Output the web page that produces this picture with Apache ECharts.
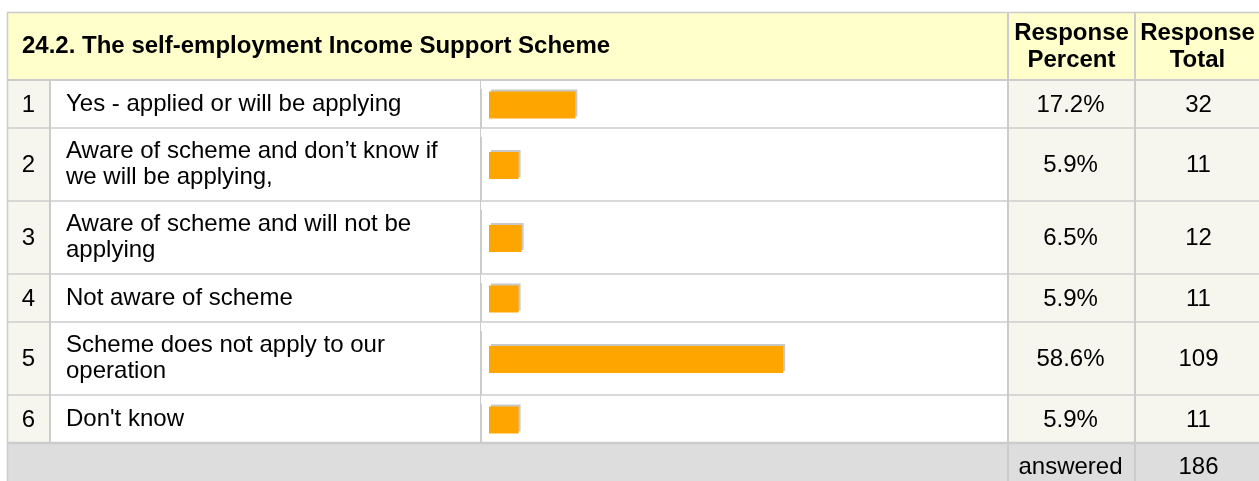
<!DOCTYPE html>
<html>
<head>
<meta charset="utf-8">
<script src="https://cdn.jsdelivr.net/npm/echarts@6/dist/echarts.min.js"></script>
<style>
html,body{margin:0;padding:0;background:#fff;}
#chart{width:1259px;height:481px;}
</style>
</head>
<body>
<div id="chart"></div>
<script>
// ---- data ----
const title = "24.2. The self-employment Income Support Scheme";
const colHeaders = ["Response\nPercent", "Response\nTotal"];
const rowNumbers = ["1", "2", "3", "4", "5", "6"];
const answers = [
  "Yes - applied or will be applying",
  "Aware of scheme and don\u2019t know if\nwe will be applying,",
  "Aware of scheme and will not be\napplying",
  "Not aware of scheme",
  "Scheme does not apply to our\noperation",
  "Don't know"
];
const percents = [17.2, 5.9, 6.5, 5.9, 58.6, 5.9];
const totals = [32, 11, 12, 11, 109, 11];
const answeredLabel = "answered";
const answeredTotal = 186;

// ---- layout ----
const FONT = '"Liberation Sans", Arial, sans-serif';
const FS = 24;
const X = {left: 7, num: 50, text: 480, bar: 1008, pct: 1135, right: 1264};
const TOP = 12, HEAD_H = 68;
const ONE_LINE_H = 48, TWO_LINE_H = 73;
const BORDER = '#cccccc';
const HEAD_BG = '#ffffcc';
const SIDE_BG = '#f6f6ef';
const FOOT_BG = '#dddddd';

const rowTops = [], rowHs = [];
let y = TOP + HEAD_H;
answers.forEach(a => {
  const h = a.indexOf('\n') >= 0 ? TWO_LINE_H : ONE_LINE_H;
  rowTops.push(y); rowHs.push(h); y += h;
});
const footTop = y;
const footBottom = 500;

const graphics = [];
function rect(x1, y1, x2, y2, fill, z) {
  graphics.push({type: 'rect', silent: true, z: z || 0,
    shape: {x: x1, y: y1, width: x2 - x1, height: y2 - y1}, style: {fill: fill}});
}
function line(x1, y1, x2, y2, w, z) {
  graphics.push({type: 'line', silent: true, z: z || 1,
    shape: {x1: x1, y1: y1, x2: x2, y2: y2}, style: {stroke: BORDER, lineWidth: w}});
}
function text(str, x, yy, align, bold, z) {
  graphics.push({type: 'text', silent: true, z: z || 5,
    style: {text: str, x: x, y: yy, align: align, verticalAlign: 'middle',
      font: (bold ? 'bold ' : '') + FS + 'px ' + FONT, fill: '#000', lineHeight: bold ? 27 : 26}});
}

// header
rect(X.left, TOP, X.right, TOP + HEAD_H, HEAD_BG);
text(title, 22, TOP + HEAD_H / 2, 'left', true);
text(colHeaders[0], (X.bar + X.pct) / 2, TOP + HEAD_H / 2 + 1, 'center', true);
text(colHeaders[1], (X.pct + X.right) / 2 - 2, TOP + HEAD_H / 2 + 1, 'center', true);

// body rows
answers.forEach((a, i) => {
  const t = rowTops[i], h = rowHs[i], c = t + h / 2;
  rect(X.left, t, X.num, t + h, SIDE_BG);
  rect(X.bar, t, X.right, t + h, SIDE_BG);
  text(rowNumbers[i], (X.left + X.num) / 2, c + 1, 'center');
  text(a, 66, c, 'left');
  text(percents[i].toFixed(1) + '%', (X.bar + X.pct) / 2 - 1, c + 1, 'center');
  text(String(totals[i]), (X.pct + X.right) / 2 - 1, c + 1, 'center');
  // bar cell inner left border
  line(X.text + 0.5, t, X.text + 0.5, t + h, 1);
  line(X.text + 1.5, t + 9, X.text + 1.5, t + h, 1);
});

// footer
rect(X.left, footTop, X.right, footBottom, FOOT_BG);
text(answeredLabel, (X.bar + X.pct) / 2 - 1, footTop + 24, 'center');
text(String(answeredTotal), (X.pct + X.right) / 2 - 1, footTop + 24, 'center');

// borders
line(X.left, TOP + 0.5, X.right, TOP + 0.5, 1.5);
line(X.left + 0.5, TOP, X.left + 0.5, footBottom, 1.5);
line(X.left, TOP + HEAD_H, X.right, TOP + HEAD_H, 2);
rowTops.forEach((t, i) => { if (i > 0) line(X.left, t, X.right, t, 1.5); });
line(X.left, footTop, X.right, footTop, 2.5);
line(X.num, TOP + HEAD_H, X.num, footTop, 2);
line(X.bar, TOP, X.bar, footBottom, 2);
line(X.pct, TOP, X.pct, footBottom, 2);

// bars: one grid per table row, shared 0-100 % scale
const grids = [], xAxes = [], yAxes = [], series = [];
answers.forEach((a, i) => {
  grids.push({left: 489, width: 502, top: rowTops[i], height: rowHs[i] + 2});
  xAxes.push({type: 'value', gridIndex: i, min: 0, max: 100, show: false});
  yAxes.push({type: 'category', gridIndex: i, data: [a], show: false});
  series.push({type: 'bar', xAxisIndex: i, yAxisIndex: i, data: [percents[i]],
    barWidth: 27, silent: true, z: 3,
    itemStyle: {color: '#ffa500', shadowColor: '#c8c8c8', shadowBlur: 0,
      shadowOffsetX: 2, shadowOffsetY: -2}});
});

const chart = echarts.init(document.getElementById('chart'), null, {renderer: 'canvas'});
chart.setOption({
  animation: false,
  backgroundColor: '#ffffff',
  grid: grids, xAxis: xAxes, yAxis: yAxes, series: series,
  graphic: {elements: graphics}
});
</script>
</body>
</html>
